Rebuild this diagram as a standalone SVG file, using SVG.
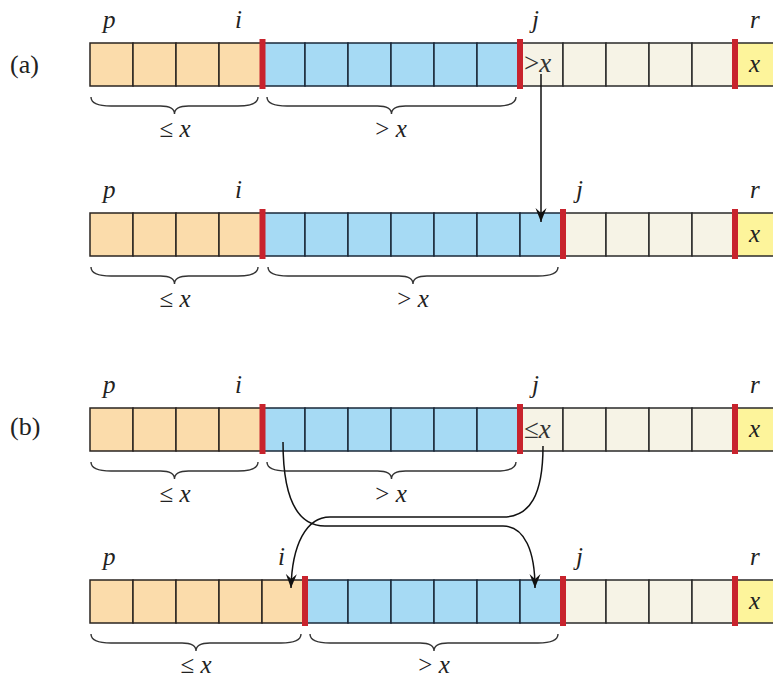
<svg xmlns="http://www.w3.org/2000/svg" width="773" height="677" viewBox="0 0 773 677">
<style>
  .tan{fill:#fbdcab;stroke:#2a2420;stroke-width:1.5}
  .blue{fill:#a6daf4;stroke:#1a2838;stroke-width:1.5}
  .beige{fill:#f6f3e6;stroke:#2a2a2a;stroke-width:1.5}
  .yellow{fill:#fdf49b;stroke:#2a2a2a;stroke-width:1.5}
  .red{fill:#c8232d}
  .brace{fill:none;stroke:#333;stroke-width:1.4}
  .it{font-family:"Liberation Serif","Times New Roman",Times,serif;font-style:italic;font-size:25px;fill:#222}
  .up{font-family:"Liberation Serif","Times New Roman",Times,serif;font-size:25px;fill:#222}
  .cell{font-family:"Liberation Serif","Times New Roman",Times,serif;font-size:27px;fill:#333}
  .tag{font-family:"Liberation Serif","Times New Roman",Times,serif;font-size:26px;fill:#222}
  .conn{fill:none;stroke:#111;stroke-width:1.5}
</style>
<defs>
  <marker id="ah" viewBox="-14 -6 15 12" refX="0" refY="0" markerWidth="15" markerHeight="12" markerUnits="userSpaceOnUse" orient="auto">
    <path d="M0,0 L-14,-5.5 L-9,0 L-14,5.5 Z" fill="#111"/>
  </marker>
</defs>

<text class="tag" x="10" y="73">(a)</text>
<text class="tag" x="10" y="435">(b)</text>

<!-- Row a1 -->
<g id="row-a1">
  <rect class="tan" x="90" y="43" width="43" height="43"/>
  <rect class="tan" x="133" y="43" width="43" height="43"/>
  <rect class="tan" x="176" y="43" width="43" height="43"/>
  <rect class="tan" x="219" y="43" width="43" height="43"/>
  <rect class="blue" x="262" y="43" width="43" height="43"/>
  <rect class="blue" x="305" y="43" width="43" height="43"/>
  <rect class="blue" x="348" y="43" width="43" height="43"/>
  <rect class="blue" x="391" y="43" width="43" height="43"/>
  <rect class="blue" x="434" y="43" width="43" height="43"/>
  <rect class="blue" x="477" y="43" width="43" height="43"/>
  <rect class="beige" x="520" y="43" width="43" height="43"/>
  <rect class="beige" x="563" y="43" width="43" height="43"/>
  <rect class="beige" x="606" y="43" width="43" height="43"/>
  <rect class="beige" x="649" y="43" width="43" height="43"/>
  <rect class="beige" x="692" y="43" width="43" height="43"/>
  <rect class="yellow" x="735" y="43" width="43" height="43"/>
  <rect class="red" x="259.5" y="39" width="6" height="50"/>
  <rect class="red" x="517" y="39" width="6" height="50"/>
  <rect class="red" x="732" y="39" width="6" height="50"/>
  <text class="it" x="103" y="28">p</text>
  <text class="it" x="235" y="28">i</text>
  <text class="it" x="532" y="28">j</text>
  <text class="it" x="750" y="28">r</text>
  <text class="cell" x="524" y="72">&gt;<tspan font-style="italic">x</tspan></text>
  <text class="it" x="749" y="72">x</text>
  <path class="brace" d="M91,97 C91,104 99,106 111,106 L160.5,106 C168.5,106 174.5,108 174.5,114 C174.5,108 180.5,106 188.5,106 L238,106 C250,106 258,104 258,97"/>
  <path class="brace" d="M267,97 C267,104 275,106 287,106 L377.5,106 C385.5,106 391.5,108 391.5,114 C391.5,108 397.5,106 405.5,106 L496,106 C508,106 516,104 516,97"/>
  <text class="up" x="175" y="137" text-anchor="middle">≤ <tspan font-style="italic">x</tspan></text>
  <text class="up" x="391" y="137" text-anchor="middle">&gt; <tspan font-style="italic">x</tspan></text>
</g>

<!-- Row a2 -->
<g id="row-a2">
  <rect class="tan" x="90" y="213" width="43" height="43"/>
  <rect class="tan" x="133" y="213" width="43" height="43"/>
  <rect class="tan" x="176" y="213" width="43" height="43"/>
  <rect class="tan" x="219" y="213" width="43" height="43"/>
  <rect class="blue" x="262" y="213" width="43" height="43"/>
  <rect class="blue" x="305" y="213" width="43" height="43"/>
  <rect class="blue" x="348" y="213" width="43" height="43"/>
  <rect class="blue" x="391" y="213" width="43" height="43"/>
  <rect class="blue" x="434" y="213" width="43" height="43"/>
  <rect class="blue" x="477" y="213" width="43" height="43"/>
  <rect class="blue" x="520" y="213" width="43" height="43"/>
  <rect class="beige" x="563" y="213" width="43" height="43"/>
  <rect class="beige" x="606" y="213" width="43" height="43"/>
  <rect class="beige" x="649" y="213" width="43" height="43"/>
  <rect class="beige" x="692" y="213" width="43" height="43"/>
  <rect class="yellow" x="735" y="213" width="43" height="43"/>
  <rect class="red" x="259.5" y="209" width="6" height="50"/>
  <rect class="red" x="560" y="209" width="6" height="50"/>
  <rect class="red" x="732" y="209" width="6" height="50"/>
  <text class="it" x="103" y="198">p</text>
  <text class="it" x="235" y="198">i</text>
  <text class="it" x="576" y="198">j</text>
  <text class="it" x="750" y="198">r</text>
  <text class="it" x="749" y="242">x</text>
  <path class="brace" d="M91,267 C91,274 99,276 111,276 L160.5,276 C168.5,276 174.5,278 174.5,284 C174.5,278 180.5,276 188.5,276 L238,276 C250,276 258,274 258,267"/>
  <path class="brace" d="M268,267 C268,274 276,276 288,276 L399,276 C407,276 413,278 413,284 C413,278 419,276 427,276 L538,276 C550,276 558,274 558,267"/>
  <text class="up" x="175" y="307" text-anchor="middle">≤ <tspan font-style="italic">x</tspan></text>
  <text class="up" x="413" y="307" text-anchor="middle">&gt; <tspan font-style="italic">x</tspan></text>
</g>

<!-- Row b1 -->
<g id="row-b1">
  <rect class="tan" x="90" y="408" width="43" height="43"/>
  <rect class="tan" x="133" y="408" width="43" height="43"/>
  <rect class="tan" x="176" y="408" width="43" height="43"/>
  <rect class="tan" x="219" y="408" width="43" height="43"/>
  <rect class="blue" x="262" y="408" width="43" height="43"/>
  <rect class="blue" x="305" y="408" width="43" height="43"/>
  <rect class="blue" x="348" y="408" width="43" height="43"/>
  <rect class="blue" x="391" y="408" width="43" height="43"/>
  <rect class="blue" x="434" y="408" width="43" height="43"/>
  <rect class="blue" x="477" y="408" width="43" height="43"/>
  <rect class="beige" x="520" y="408" width="43" height="43"/>
  <rect class="beige" x="563" y="408" width="43" height="43"/>
  <rect class="beige" x="606" y="408" width="43" height="43"/>
  <rect class="beige" x="649" y="408" width="43" height="43"/>
  <rect class="beige" x="692" y="408" width="43" height="43"/>
  <rect class="yellow" x="735" y="408" width="43" height="43"/>
  <rect class="red" x="259.5" y="404" width="6" height="50"/>
  <rect class="red" x="517" y="404" width="6" height="50"/>
  <rect class="red" x="732" y="404" width="6" height="50"/>
  <text class="it" x="103" y="393">p</text>
  <text class="it" x="235" y="393">i</text>
  <text class="it" x="532" y="393">j</text>
  <text class="it" x="750" y="393">r</text>
  <text class="cell" x="524" y="438">≤<tspan font-style="italic">x</tspan></text>
  <text class="it" x="749" y="437">x</text>
  <path class="brace" d="M91,462 C91,469 99,471 111,471 L160.5,471 C168.5,471 174.5,473 174.5,479 C174.5,473 180.5,471 188.5,471 L238,471 C250,471 258,469 258,462"/>
  <path class="brace" d="M267,462 C267,469 275,471 287,471 L377.5,471 C385.5,471 391.5,473 391.5,479 C391.5,473 397.5,471 405.5,471 L496,471 C508,471 516,469 516,462"/>
  <text class="up" x="175" y="502" text-anchor="middle">≤ <tspan font-style="italic">x</tspan></text>
  <text class="up" x="391" y="502" text-anchor="middle">&gt; <tspan font-style="italic">x</tspan></text>
</g>

<!-- Row b2 -->
<g id="row-b2">
  <rect class="tan" x="90" y="580" width="43" height="43"/>
  <rect class="tan" x="133" y="580" width="43" height="43"/>
  <rect class="tan" x="176" y="580" width="43" height="43"/>
  <rect class="tan" x="219" y="580" width="43" height="43"/>
  <rect class="tan" x="262" y="580" width="43" height="43"/>
  <rect class="blue" x="305" y="580" width="43" height="43"/>
  <rect class="blue" x="348" y="580" width="43" height="43"/>
  <rect class="blue" x="391" y="580" width="43" height="43"/>
  <rect class="blue" x="434" y="580" width="43" height="43"/>
  <rect class="blue" x="477" y="580" width="43" height="43"/>
  <rect class="blue" x="520" y="580" width="43" height="43"/>
  <rect class="beige" x="563" y="580" width="43" height="43"/>
  <rect class="beige" x="606" y="580" width="43" height="43"/>
  <rect class="beige" x="649" y="580" width="43" height="43"/>
  <rect class="beige" x="692" y="580" width="43" height="43"/>
  <rect class="yellow" x="735" y="580" width="43" height="43"/>
  <rect class="red" x="302" y="576" width="6" height="50"/>
  <rect class="red" x="560" y="576" width="6" height="50"/>
  <rect class="red" x="732" y="576" width="6" height="50"/>
  <text class="it" x="103" y="565">p</text>
  <text class="it" x="278" y="565">i</text>
  <text class="it" x="576" y="565">j</text>
  <text class="it" x="750" y="565">r</text>
  <text class="it" x="749" y="609">x</text>
  <path class="brace" d="M91,634 C91,641 99,643 111,643 L182,643 C190,643 196,645 196,651 C196,645 202,643 210,643 L281,643 C293,643 301,641 301,634"/>
  <path class="brace" d="M310,634 C310,641 318,643 330,643 L420,643 C428,643 434,645 434,651 C434,645 440,643 448,643 L538,643 C550,643 558,641 558,634"/>
  <text class="up" x="196" y="673" text-anchor="middle">≤ <tspan font-style="italic">x</tspan></text>
  <text class="up" x="434" y="673" text-anchor="middle">&gt; <tspan font-style="italic">x</tspan></text>
</g>

<!-- Connectors -->
<g id="connectors">
  <path class="conn" d="M541,74 L541,222" marker-end="url(#ah)"/>
  <path class="conn" d="M283,442 C283,500 298,526 325,526 L503,526 C525,526 535,552 535,588" marker-end="url(#ah)"/>
  <path class="conn" d="M543,446 C543,495 530,517 503,517 L330,517 C306,517 292,545 291,588" marker-end="url(#ah)"/>
</g>
</svg>
